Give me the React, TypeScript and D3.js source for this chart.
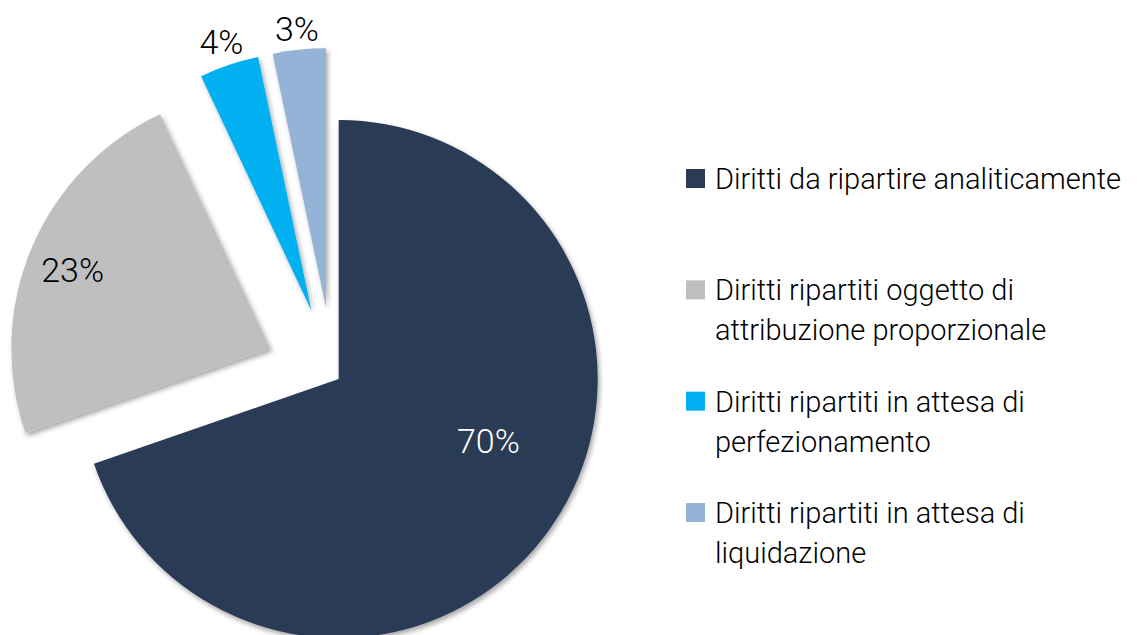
import React, { useEffect, useRef } from "react";
import * as d3 from "d3";

// data
const categories = [
  "Diritti da ripartire analiticamente",
  "Diritti ripartiti oggetto di attribuzione proporzionale",
  "Diritti ripartiti in attesa di perfezionamento",
  "Diritti ripartiti in attesa di liquidazione",
];
const values = [69.7, 23.3, 3.7, 3.3];
const legendLines = [
  ["Diritti da ripartire analiticamente"],
  ["Diritti ripartiti oggetto di", "attribuzione proporzionale"],
  ["Diritti ripartiti in attesa di", "perfezionamento"],
  ["Diritti ripartiti in attesa di", "liquidazione"],
];
const colors = ["#2B3A55", "#BFBFBF", "#00B0F0", "#95B3D7"];

const W = 1137;
const H = 635;
const FONT = "Roboto, 'Noto Sans', sans-serif";

export default function App() {
  const ref = useRef<SVGSVGElement>(null);

  useEffect(() => {
    const svg = d3.select(ref.current);
    svg.selectAll("*").remove();

    const cx = 333;
    const cy = 375;
    const r = 259;
    // how far each slice is pulled out of the pie
    const explode = [7, 68, 68, 68];
    // where the percent labels sit (distance from slice tip, angle nudge in degrees)
    const labelDist = [162, 213, 283, 280];
    const labelNudge = [-13, -1, 0, 0];
    const labelColor = ["#fff", "#000", "#000", "#000"];

    const defs = svg.append("defs");
    const f = defs
      .append("filter")
      .attr("id", "shadow")
      .attr("x", "-20%")
      .attr("y", "-20%")
      .attr("width", "140%")
      .attr("height", "140%");
    f.append("feDropShadow")
      .attr("dx", 2)
      .attr("dy", 3)
      .attr("stdDeviation", 2.5)
      .attr("flood-color", "#000")
      .attr("flood-opacity", 0.35);

    const pie = d3.pie<number>().sort(null).value((d) => d);
    const arcs = pie(values);
    const arc = d3.arc<d3.PieArcDatum<number>>().innerRadius(0).outerRadius(r);

    const g = svg.append("g").attr("transform", `translate(${cx},${cy})`);

    const slices = g
      .selectAll("g.slice")
      .data(arcs)
      .enter()
      .append("g")
      .attr("class", "slice")
      .attr("transform", (d, i) => {
        const a = (d.startAngle + d.endAngle) / 2;
        return `translate(${explode[i] * Math.sin(a)},${-explode[i] * Math.cos(a)})`;
      });

    slices
      .append("path")
      .attr("d", arc)
      .attr("fill", (d, i) => colors[i])
      .attr("filter", "url(#shadow)");

    const fmt = d3.format(".0f");
    slices
      .append("text")
      .attr("x", (d, i) => {
        const a = (d.startAngle + d.endAngle) / 2 + (labelNudge[i] * Math.PI) / 180;
        return labelDist[i] * Math.sin(a);
      })
      .attr("y", (d, i) => {
        const a = (d.startAngle + d.endAngle) / 2 + (labelNudge[i] * Math.PI) / 180;
        return -labelDist[i] * Math.cos(a);
      })
      .attr("dy", "0.36em")
      .attr("text-anchor", "middle")
      .attr("font-family", FONT)
      .attr("font-weight", 300)
      .attr("font-size", 34)
      .attr("fill", (d, i) => labelColor[i])
      .text((d) => `${fmt(d.value)}%`);

    // legend
    const legendY = d3.scalePoint<string>().domain(categories).range([189, 523]);
    const baseAdjust = [0, 0, 0, 0];
    const lg = svg
      .selectAll("g.legend")
      .data(categories)
      .enter()
      .append("g")
      .attr("class", "legend")
      .attr("transform", (d, i) => `translate(686,${(legendY(d) as number) + baseAdjust[i]})`);

    lg.append("rect")
      .attr("x", 0)
      .attr("y", -20)
      .attr("width", 19)
      .attr("height", 19)
      .attr("fill", (d, i) => colors[i]);

    lg.each(function (d, i) {
      const t = d3
        .select(this)
        .append("text")
        .attr("x", 29)
        .attr("y", 0)
        .attr("font-family", FONT)
        .attr("font-weight", 300)
        .attr("font-size", 29)
        .attr("fill", "#000");
      legendLines[i].forEach((line, j) => {
        t.append("tspan").attr("x", 29).attr("y", j * 40).text(line);
      });
    });
  }, []);

  return (
    <svg
      ref={ref}
      width={W}
      height={H}
      style={{ position: "absolute", left: 0, top: 0, background: "#fff" }}
    />
  );
}
